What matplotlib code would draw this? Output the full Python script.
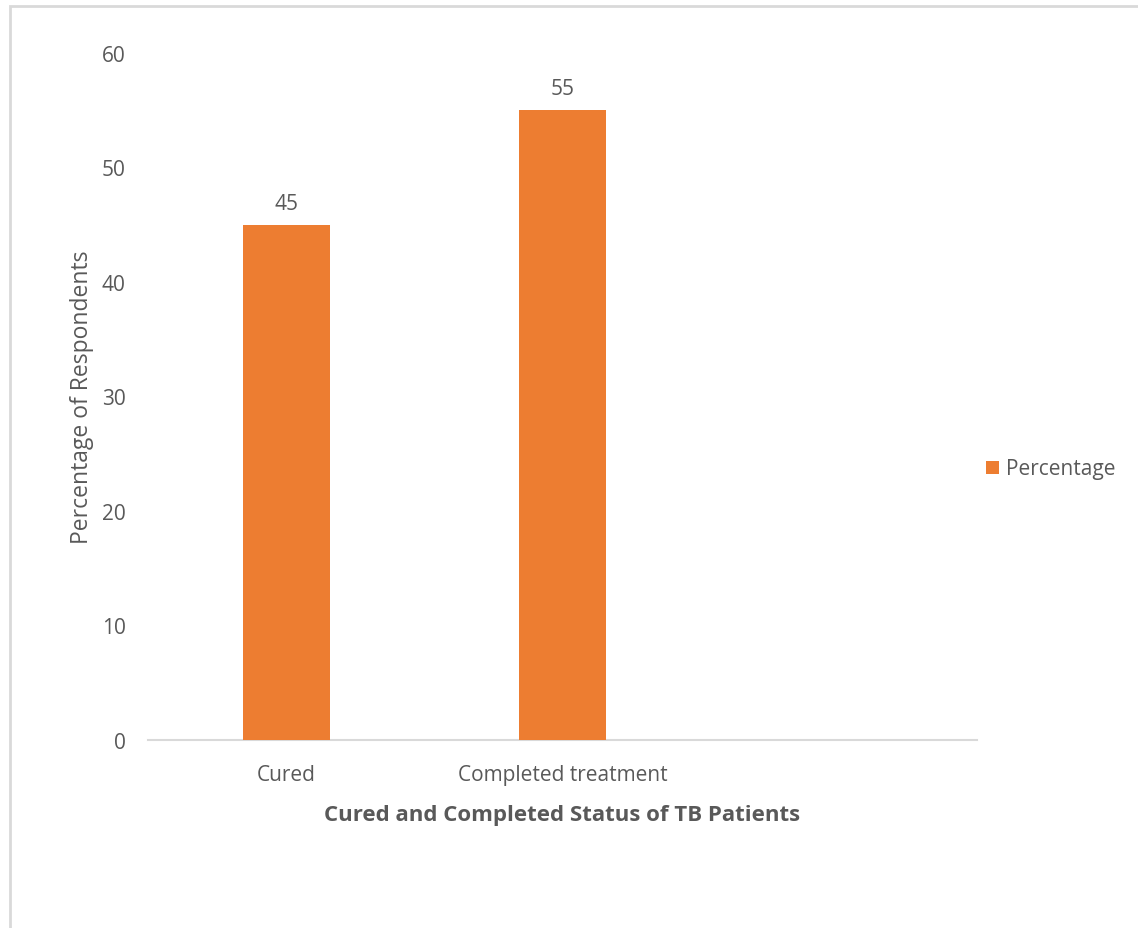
import matplotlib
matplotlib.use("Agg")
import matplotlib.pyplot as plt
from matplotlib.patches import Rectangle, Patch

categories = ["Cured", "Completed treatment", ""]
values = [45, 55, None]
series_name = "Percentage"
yticks = [0, 10, 20, 30, 40, 50, 60]

W, H = 1138, 929
fig = plt.figure(figsize=(W/100, H/100), dpi=100)
plt.rcParams['font.family'] = ['Open Sans', 'DejaVu Sans']
txt = '#595959'
orange = '#ED7D31'
grid = '#D9D9D9'

# outer border
fig.add_artist(Rectangle((10/W, -0.1), 1.2, 1 - 7/H + 0.1, transform=fig.transFigure,
                         fill=False, edgecolor=grid, linewidth=2))

ax = fig.add_axes([148/W, 1-741/H, (977-148)/W, (741-54)/H])
xs = list(range(len(categories)))
bx = [x for x, v in zip(xs, values) if v is not None]
bv = [v for v in values if v is not None]
bars = ax.bar(bx, bv, width=0.315, color=orange, zorder=3)
for x, v in zip(bx, bv):
    ax.annotate(f"{v}", (x, v), xytext=(0, 8), textcoords='offset points',
                ha='center', va='bottom', color=txt, fontsize=15)
ax.set_xlim(-0.5, len(categories) - 0.5)
ax.set_ylim(0, 60)
ax.set_yticks(yticks)
ax.set_xticks(xs)
ax.set_xticklabels(categories)
for s in ['top', 'right', 'left']:
    ax.spines[s].set_visible(False)
ax.spines['bottom'].set_color(grid)
ax.spines['bottom'].set_linewidth(1.5)
ax.tick_params(axis='both', length=0, colors=txt, labelsize=15)
ax.tick_params(axis='y', pad=16)
ax.tick_params(axis='x', pad=17)
ax.set_ylabel("Percentage of Respondents", color=txt, fontsize=16.5, labelpad=6)
ax.set_xlabel("Cured and Completed Status of TB Patients", color=txt, fontsize=16,
              fontweight='bold', labelpad=14)

fig.legend(handles=[Patch(facecolor=orange, label=series_name)], loc='center left',
           bbox_to_anchor=(986/W, 1-470/H), frameon=False, fontsize=15, borderpad=0,
           borderaxespad=0, handlelength=0.6, handleheight=0.6, handletextpad=0.35,
           labelcolor=txt)

fig.savefig("out.png", dpi=100)
